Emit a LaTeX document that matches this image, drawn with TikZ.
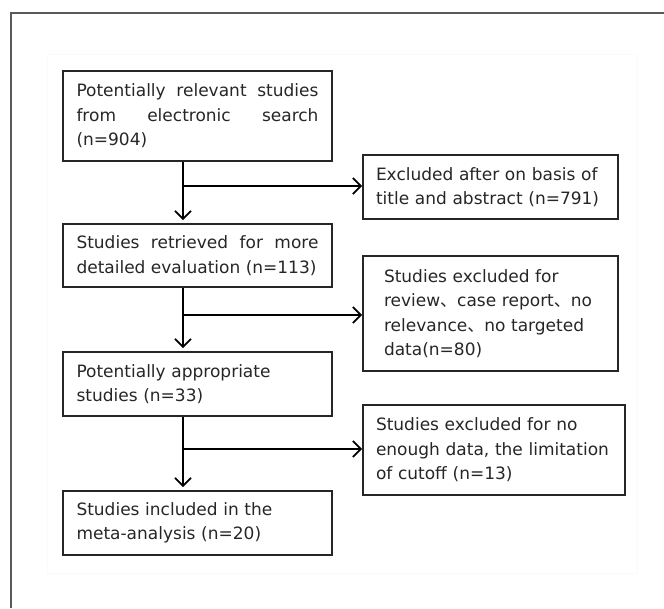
\documentclass[tikz,border=0pt]{standalone}
\usepackage{fontspec}
\setmainfont{DejaVu Sans}
\newfontfamily\cjk{Noto Sans CJK SC}
\usetikzlibrary{arrows.meta}
\newcommand{\dun}{{\cjk 、}}

\begin{document}
\begin{tikzpicture}[x=1pt,y=-1pt,
		stage/.style={draw=black!85,line width=1.8pt,text width=242pt,inner xsep=13.5pt,inner ysep=0pt,
			font=\fontsize{17}{24.5}\selectfont,text=black!85},
		excl/.style={stage,text width=229pt,inner xsep=13pt,minimum width=255pt},
		flow/.style={line width=1.8pt,-{Straight Barb[length=8pt,width=16pt]}}]
		\useasboundingbox (0,0) rectangle (664,608);
		\draw [gray!70!black,line width=1.4pt] (11,608) -- (11,13) -- (664,13);
		\draw [black!2,line width=0.8pt] (47,54) rectangle (637,573);
		\node [stage,minimum height=90pt,align=justify] (s1) at (197.5,116) {Potentially relevant studies\linebreak from electronic search\linebreak (n=904)};
		\node [stage,minimum height=63pt,align=justify] (s2) at (197.5,255.5) {Studies retrieved for more\linebreak detailed evaluation (n=113)};
		\node [stage,minimum height=64pt,align=left] (s3) at (197.5,384) {Potentially appropriate\\studies (n=33)};
		\node [stage,minimum height=64pt,align=left] (s4) at (197.5,523) {Studies included in the\\meta-analysis (n=20)};
		\node [excl,minimum height=64pt,align=left] (e1) at (490.5,187) {Excluded after on basis of\\title and abstract (n=791)};
		\node [excl,text width=213pt,minimum height=115pt,align=left] (e2) at (490.5,313.5) {Studies excluded for\\review\dun case report\dun no\\relevance\dun no targeted\\data(n=80)};
		\node [excl,text width=236pt,minimum width=262pt,minimum height=90pt,align=left] (e3) at (494,450) {Studies excluded for no\\enough data, the limitation\\of cutoff (n=13)};
		\coordinate (j1) at (183,186);
		\coordinate (j2) at (183,315);
		\coordinate (j3) at (183,449);
		\draw [flow,shorten >=3pt] (s1.south -| j1) -- (s2.north -| j1);
		\draw [flow,shorten >=3pt] (s2.south -| j2) -- (s3.north -| j2);
		\draw [flow,shorten >=3pt] (s3.south -| j3) -- (s4.north -| j3);
		\draw [flow] (j1) -- (j1 -| e1.west);
		\draw [flow] (j2) -- (j2 -| e2.west);
		\draw [flow] (j3) -- (j3 -| e3.west);
\end{tikzpicture}
\end{document}
